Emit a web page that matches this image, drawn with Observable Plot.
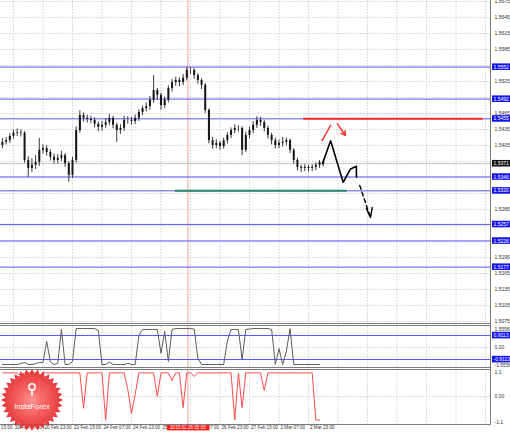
<!DOCTYPE html>
<html><head><meta charset="utf-8">
<script src="https://cdn.jsdelivr.net/npm/d3@7"></script>
<script src="https://cdn.jsdelivr.net/npm/@observablehq/plot@0.6"></script>
<style>
html,body{margin:0;padding:0;background:#fff;}
#wrap{position:relative;width:510px;height:433px;overflow:hidden;background:#fff;}
.panel{position:absolute;left:0;}
.hl{position:absolute;left:0;width:491px;height:0;border-top:1px solid #7a7a7a;}
.vl{position:absolute;left:490px;top:0;width:0;height:425px;border-left:1px solid #7a7a7a;}
</style></head><body><div id="wrap"></div>
<script>
// ---------- data (H2 bars, index 0 = 19 Feb 15:00) ----------
const firstBar = 5;
const barOpen = [
 1.5405,1.5411,1.5414,1.5422,1.5428,1.5429,1.5428,1.5377,
 1.5362,1.5368,1.5373,1.5396,1.5399,1.5392,1.5383,1.5377,
 1.5381,1.5386,1.5371,1.5349,1.5377,1.5433,1.5461,1.5456,
 1.5454,1.5452,1.5445,1.5439,1.5443,1.5448,1.5456,1.5443,
 1.5433,1.5437,1.5452,1.5452,1.5450,1.5456,1.5467,1.5474,
 1.5478,1.5490,1.5508,1.5499,1.5480,1.5490,1.5512,1.5523,
 1.5527,1.5523,1.5531,1.5546,1.5546,1.5536,1.5527,1.5518,
 1.5471,1.5414,1.5405,1.5409,1.5403,1.5414,1.5424,1.5433,
 1.5437,1.5437,1.5396,1.5424,1.5433,1.5443,1.5452,1.5448,
 1.5437,1.5424,1.5414,1.5405,1.5409,1.5411,1.5414,1.5396,
 1.5377,1.5364,1.5362,1.5364,1.5362,1.5364,1.5368,1.5373];
const barHigh = [
 1.5418,1.5420,1.5427,1.5434,1.5436,1.5434,1.5431,1.5384,
 1.5380,1.5386,1.5418,1.5406,1.5405,1.5397,1.5389,1.5388,
 1.5394,1.5390,1.5375,1.5383,1.5440,1.5470,1.5466,1.5462,
 1.5460,1.5457,1.5449,1.5450,1.5455,1.5463,1.5460,1.5447,
 1.5444,1.5460,1.5459,1.5458,1.5462,1.5472,1.5479,1.5485,
 1.5497,1.5536,1.5512,1.5503,1.5496,1.5517,1.5529,1.5533,
 1.5532,1.5538,1.5552,1.5551,1.5549,1.5540,1.5530,1.5521,
 1.5474,1.5420,1.5416,1.5413,1.5419,1.5429,1.5438,1.5444,
 1.5442,1.5440,1.5430,1.5439,1.5450,1.5459,1.5458,1.5452,
 1.5441,1.5428,1.5419,1.5415,1.5420,1.5419,1.5417,1.5399,
 1.5381,1.5368,1.5369,1.5368,1.5369,1.5372,1.5377,1.5378];
const barLow = [
 1.5399,1.5406,1.5409,1.5417,1.5422,1.5421,1.5372,1.5345,
 1.5354,1.5360,1.5366,1.5389,1.5385,1.5376,1.5370,1.5371,
 1.5375,1.5364,1.5336,1.5343,1.5372,1.5428,1.5449,1.5447,
 1.5446,1.5438,1.5431,1.5432,1.5437,1.5442,1.5436,1.5411,
 1.5426,1.5431,1.5445,1.5443,1.5444,1.5450,1.5461,1.5468,
 1.5471,1.5484,1.5490,1.5471,1.5474,1.5485,1.5505,1.5516,
 1.5515,1.5517,1.5526,1.5538,1.5529,1.5520,1.5510,1.5465,
 1.5408,1.5398,1.5399,1.5396,1.5398,1.5408,1.5418,1.5427,
 1.5430,1.5386,1.5392,1.5418,1.5427,1.5437,1.5441,1.5430,
 1.5417,1.5406,1.5398,1.5399,1.5402,1.5404,1.5390,1.5370,
 1.5357,1.5354,1.5356,1.5355,1.5356,1.5358,1.5362,1.5365];
const barClose = [
 1.5411,1.5414,1.5422,1.5428,1.5429,1.5428,1.5377,1.5362,
 1.5368,1.5373,1.5396,1.5399,1.5392,1.5383,1.5377,1.5381,
 1.5386,1.5371,1.5349,1.5377,1.5433,1.5461,1.5456,1.5454,
 1.5452,1.5445,1.5439,1.5443,1.5448,1.5456,1.5443,1.5433,
 1.5437,1.5452,1.5452,1.5450,1.5456,1.5467,1.5474,1.5478,
 1.5490,1.5508,1.5499,1.5480,1.5490,1.5512,1.5523,1.5527,
 1.5523,1.5531,1.5546,1.5546,1.5536,1.5527,1.5518,1.5471,
 1.5414,1.5405,1.5409,1.5403,1.5414,1.5424,1.5433,1.5437,
 1.5437,1.5396,1.5424,1.5433,1.5443,1.5452,1.5448,1.5437,
 1.5424,1.5414,1.5405,1.5409,1.5411,1.5414,1.5396,1.5377,
 1.5364,1.5362,1.5364,1.5362,1.5364,1.5368,1.5373,1.5371];

// oscillator 1 (grey) and oscillator 2 (red), one value per bar
const osc1Values = [
 -1.29,-1.29,-1.29,-1.29,-1.29,-1.22,-1.14,-1.29,
 -1.29,-1.22,-1.14,-1.14,0.46,-1.10,-1.29,-1.20,
 1.37,-1.29,-1.29,-1.06,1.44,1.44,1.44,1.44,
 1.44,1.44,1.30,-1.29,-1.29,-1.10,-1.29,-1.29,
 -1.29,-1.29,-1.20,-1.29,-1.29,0.90,1.37,1.37,
 1.37,1.37,1.37,-0.43,1.21,-1.06,1.37,1.44,
 1.44,1.44,1.44,1.44,1.40,-0.80,-1.29,-1.29,
 -1.29,-1.29,-1.29,-1.29,-1.29,0.50,1.37,1.37,
 1.37,-0.91,1.37,1.40,1.44,1.44,1.44,1.44,
 1.44,1.37,-1.29,-0.08,-1.29,-0.30,1.44,-1.29,
 -1.29,-1.29,-1.29,-1.29,-1.29,-1.29,-1.29,null];
const osc2Values = [
 1.0,1.0,1.0,1.0,1.0,0.89,1.0,1.0,
 1.0,1.0,-0.8,1.0,1.0,1.0,1.0,1.0,
 1.0,1.0,1.0,1.0,1.0,1.0,-0.5,1.0,
 1.0,1.0,1.0,1.0,-1.0,1.0,1.0,1.0,
 1.0,1.0,0.3,-0.72,0.1,1.0,1.0,1.0,
 1.0,1.0,0.0,1.0,1.0,1.0,0.68,1.0,
 1.0,-0.47,1.0,1.0,0.85,1.0,1.0,1.0,
 1.0,1.0,1.0,1.0,1.0,1.0,1.0,-1.0,
 1.0,-0.47,1.0,1.0,1.0,1.0,1.0,0.25,
 1.0,1.0,1.0,1.0,1.0,1.0,1.0,1.0,
 1.0,1.0,1.0,1.0,1.0,-1.0,-1.0,null];

// horizontal levels
const levelValues = [1.5552,1.5492,1.5455,1.5346,1.5320,1.5257,1.5226,1.5177];
const levelLabels = ["1.5552","1.5492","1.5455","1.5346","1.5320","1.5257","1.5226","1.5177"];
const currentPrice = [1.5371];
const currentLabel = ["1.5371"];
const resistanceLevel = [1.5455];
const resistanceSpan = [86.7, 135.4];
const supportLevel = [1.5320];
const supportSpan = [51.9, 98.5];

// forecast drawings (bar index, price)
const pathIdx = [91.8, 94.0, 97.4, 99.4, 101.0, 101.0];
const pathPrice = [1.5371, 1.5414, 1.5336, 1.5361, 1.5366, 1.5346];
const dashIdx = [101.9, 104.8];
const dashPrice = [1.5330, 1.5270];
const dashHeadIdx = [103.7, 104.8, 105.3];
const dashHeadPrice = [1.5287, 1.5270, 1.5289];
const redUpIdx = [91.7, 94.0];
const redUpPrice = [1.5414, 1.5443];
const redDownIdx = [95.8, 98.0];
const redDownPrice = [1.5446, 1.5424];

// axes
const priceTicks = [1.5075,1.5105,1.5135,1.5165,1.5195,1.5225,1.5255,1.5285,1.5315,1.5345,1.5375,
  1.5405,1.5435,1.5465,1.5495,1.5525,1.5555,1.5585,1.5615,1.5645,1.5675];
const timeTickIdx = [0,8,16,24,32,40,48,56,64,72,80,88];
const timeTickLabels = ["19 Feb 15:00","20 Feb 07:00","20 Feb 23:00","23 Feb 15:00","24 Feb 07:00",
  "24 Feb 23:00","25 Feb 15:00","26 Feb 07:00","26 Feb 23:00","27 Feb 15:00","2 Mar 07:00","2 Mar 23:00"];
const gridIdx = [8,16,24,32,40,48,56,64,72,80,88,96,104,112,120,128,136];
const crosshairIdx = [55.3];
const crosshairLabel = ["2015.02.26 05:00"];
const osc1Ticks = [1.5556, 0, -1.5556];
const osc1TickLabels = ["1.5556", "0.00", "-1.5556"];
const osc1Levels = [0.9113, -0.9113];
const osc1LevelLabels = ["0.9113", "-0.9113"];
const osc2Ticks = [1.1, 0, -1.1];
const osc2TickLabels = ["1.1", "0.00", "-1.1"];

// ---------- build ----------
const bars = barClose.map((c, k) => ({i: firstBar + k, o: barOpen[k], h: barHigh[k], l: barLow[k], c}));
const osc1 = osc1Values.map((v, k) => ({i: firstBar + k, v}));
const osc2 = osc2Values.map((v, k) => ({i: firstBar + k, v}));
const zip = (a, b) => a.map((x, k) => ({x, y: b[k]}));
// price-scale labels hidden behind the level tags (as in the terminal)
const tagged = levelValues.concat(currentPrice);
const visibleTicks = priceTicks.filter(t => !tagged.some(l => Math.abs(l - t) < 0.0008));

const FONT = "Liberation Sans, Arial, sans-serif";
const NARROW = "Liberation Sans Narrow, Liberation Sans, Arial, sans-serif";
const BLUE = "#5858ff";
const TAG_BLUE = "#fff", TAG_BLACK = "#fefefe", TAG_RED = "#fdfdfd";
const GRID = {stroke: "#c6c6c6", strokeDasharray: "1.5,1.5", strokeWidth: 0.8};
const common = {
  width: 510, marginLeft: 0, marginRight: 20,
  x: {domain: [4.4746, 137.36], range: [0, 490], axis: null},
  style: {background: "transparent", fontFamily: FONT, overflow: "visible"}
};
const tickText = (vals, labels, extra = {}) => Plot.text(vals, {
  y: d => d, text: (d, k) => labels[k], frameAnchor: "right", dx: 4, textAnchor: "start",
  fontSize: 5, fill: "#333", ...extra
});

const main = Plot.plot({
  ...common, height: 323, marginTop: 0, marginBottom: 0,
  y: {domain: [1.5075, 1.5675], range: [321, 1], axis: null},
  marks: [
    Plot.ruleY(priceTicks, GRID),
    Plot.ruleX(gridIdx, GRID),
    Plot.ruleX(crosshairIdx, {stroke: "#e48a8a", strokeWidth: 0.8}),
    Plot.ruleY(currentPrice, {stroke: "#c2c2c2", strokeWidth: 1}),
    Plot.ruleY(levelValues, {stroke: BLUE, strokeWidth: 1}),
    Plot.ruleY(resistanceLevel, {x1: resistanceSpan[0], x2: resistanceSpan[1], stroke: "#ff2b2b", strokeWidth: 2}),
    Plot.ruleY(supportLevel, {x1: supportSpan[0], x2: supportSpan[1], stroke: "#23896b", strokeWidth: 2}),
    Plot.ruleX(bars, {x: "i", y1: "l", y2: "h", stroke: "#3a3a3a", strokeWidth: 1}),
    Plot.ruleX(bars, {x: "i", y1: "o", y2: "c", stroke: "#151515", strokeWidth: 2}),
    Plot.line(zip(pathIdx, pathPrice), {x: "x", y: "y", stroke: "#000", strokeWidth: 1.6}),
    Plot.line(zip(dashIdx, dashPrice), {x: "x", y: "y", stroke: "#000", strokeWidth: 1.4, strokeDasharray: "4,3"}),
    Plot.line(zip(dashHeadIdx, dashHeadPrice), {x: "x", y: "y", stroke: "#000", strokeWidth: 1.4}),
    Plot.line(zip(redUpIdx, redUpPrice), {x: "x", y: "y", stroke: "#ff2b2b", strokeWidth: 1.4}),
    Plot.arrow([0], {x1: redDownIdx[0], y1: redDownPrice[0], x2: redDownIdx[1], y2: redDownPrice[1],
      stroke: "#ff2b2b", strokeWidth: 1.4, headLength: 8}),
    tickText(visibleTicks, visibleTicks.map(d => d.toFixed(4))),
    Plot.text(levelValues, {y: d => d, text: (d, k) => levelLabels[k], frameAnchor: "right", dx: 3,
      textAnchor: "start", fontSize: 5, fill: TAG_BLUE}),
    Plot.text(currentPrice, {y: d => d, text: (d, k) => currentLabel[k], frameAnchor: "right", dx: 3,
      textAnchor: "start", fontSize: 5, fill: TAG_BLACK})
  ]
});

const sub1 = Plot.plot({
  ...common, height: 42, marginTop: 0, marginBottom: 0,
  y: {domain: [-1.5556, 1.5556], range: [41.5, 0.5], axis: null},
  marks: [
    Plot.ruleX(gridIdx, GRID),
    Plot.ruleY([0], GRID),
    Plot.ruleX(crosshairIdx, {stroke: "#e48a8a", strokeWidth: 0.8}),
    Plot.ruleY(osc1Levels, {stroke: BLUE, strokeWidth: 1}),
    Plot.line(osc1, {x: "i", y: "v", stroke: "#5c5c5c", strokeWidth: 1}),
    tickText([osc1Ticks[0]], [osc1TickLabels[0]], {dy: 2.5}),
    tickText([osc1Ticks[1]], [osc1TickLabels[1]]),
    tickText([osc1Ticks[2]], [osc1TickLabels[2]], {dy: -3}),
    Plot.text(osc1Levels, {y: d => d, text: (d, k) => osc1LevelLabels[k], frameAnchor: "right", dx: 3,
      textAnchor: "start", fontSize: 5, fill: TAG_BLUE})
  ]
});

const sub2 = Plot.plot({
  ...common, height: 64, marginTop: 0, marginBottom: 9,
  y: {domain: [-1.1, 1.1], range: [53, 1], axis: null},
  marks: [
    Plot.ruleX(gridIdx, GRID),
    Plot.ruleY([0], GRID),
    Plot.ruleX(crosshairIdx, {stroke: "#e48a8a", strokeWidth: 0.8}),
    Plot.line(osc2, {x: "i", y: "v", stroke: "#ff4a4a", strokeWidth: 1}),
    tickText([osc2Ticks[0]], [osc2TickLabels[0]], {dy: 1.5}),
    tickText([osc2Ticks[1]], [osc2TickLabels[1]]),
    tickText([osc2Ticks[2]], [osc2TickLabels[2]]),
    Plot.text(timeTickIdx, {x: d => d, text: (d, k) => timeTickLabels[k], frameAnchor: "bottom",
      dy: 4.5, dx: 1.5, textAnchor: "start", fontSize: 4.6, fill: "#333", fontFamily: NARROW}),
    Plot.text(crosshairIdx, {x: d => d, text: (d, k) => crosshairLabel[k], frameAnchor: "bottom",
      dy: 4.5, textAnchor: "middle", fontSize: 4.6, fill: TAG_RED, fontFamily: NARROW})
  ]
});

const wrap = document.getElementById("wrap");
function place(node, top) {
  node.classList.add("panel");
  node.style.top = top + "px";
  wrap.appendChild(node);
}
place(main, 0);
place(sub1, 325.5);
place(sub2, 369);

[323, 325, 367, 369, 424].forEach(t => {
  const d = document.createElement("div");
  d.className = "hl"; d.style.top = t + "px"; wrap.appendChild(d);
});
const vl = document.createElement("div"); vl.className = "vl"; wrap.appendChild(vl);

// label boxes behind tag texts (found by their text colour)
function tagify(svg, textFill, fill, padX, padY) {
  svg.querySelectorAll("text").forEach(t => {
    const f = t.getAttribute("fill") || (t.parentNode && t.parentNode.getAttribute("fill"));
    if (f !== textFill) return;
    const b = t.getBBox();
    const r = document.createElementNS("http://www.w3.org/2000/svg", "rect");
    r.setAttribute("x", b.x - padX);
    r.setAttribute("y", b.y - padY);
    r.setAttribute("width", b.width + 2 * padX);
    r.setAttribute("height", b.height + 2 * padY);
    r.setAttribute("fill", fill);
    if (t.getAttribute("transform")) r.setAttribute("transform", t.getAttribute("transform"));
    t.parentNode.insertBefore(r, t);
  });
}
[main, sub1].forEach(s => tagify(s, TAG_BLUE, "#1414f0", 1.5, 0.3));
tagify(main, TAG_BLACK, "#111", 1.5, 0.3);
tagify(sub2, TAG_RED, "#ff1a1a", 3, 0.4);

// InstaForex logo (decorative)
const logo = d3.create("svg").attr("width", 68).attr("height", 72)
  .style("position", "absolute").style("left", "0px").style("top", "363px").style("opacity", 0.93);
const grad = logo.append("defs").append("radialGradient").attr("id", "lg");
grad.append("stop").attr("offset", "0%").attr("stop-color", "#ff8a8a");
grad.append("stop").attr("offset", "60%").attr("stop-color", "#f24848");
grad.append("stop").attr("offset", "100%").attr("stop-color", "#e02a2a");
const cx = 32, cy = 37, teeth = 32;
const pts = d3.range(teeth * 2).map(k => {
  const a = (k / (teeth * 2)) * 2 * Math.PI;
  const r = k % 2 ? 26.5 : 31;
  return [cx + r * Math.sin(a), cy - r * Math.cos(a)];
});
logo.append("polygon").attr("points", pts.map(p => p.join(",")).join(" ")).attr("fill", "url(#lg)");
logo.append("circle").attr("cx", cx).attr("cy", 24).attr("r", 3.2).attr("fill", "none")
  .attr("stroke", "#fff").attr("stroke-width", 1.4);
logo.append("rect").attr("x", cx - 0.9).attr("y", 26.5).attr("width", 1.8).attr("height", 6).attr("fill", "#fff");
logo.append("text").attr("x", cx).attr("y", 46).attr("text-anchor", "middle")
  .attr("font-family", FONT).attr("font-size", 7.5).attr("fill", "#fff").text("InstaForex");
wrap.appendChild(logo.node());
</script></body></html>
